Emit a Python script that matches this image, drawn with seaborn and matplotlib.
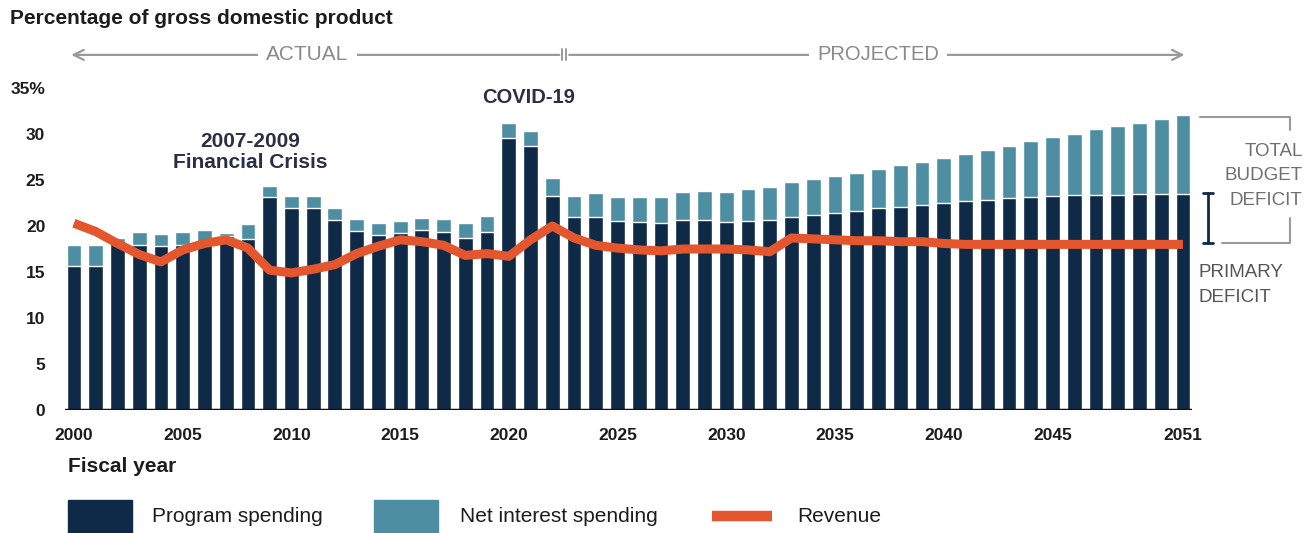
import numpy as np
import pandas as pd
import matplotlib
matplotlib.use("Agg")
import matplotlib.pyplot as plt
from matplotlib.patches import Rectangle
from matplotlib.lines import Line2D
import seaborn as sns

# Fiscal years 2000-2051
years = list(range(2000, 2052))

# Program spending, % of GDP
program = [
    15.6, 15.7, 18.1, 17.9, 17.8, 17.9, 17.9, 18.9, 18.6, 23.1,
    22.0, 22.0, 20.6, 19.5, 19.0, 19.2, 19.6, 19.3, 18.7, 19.3,
    29.6, 28.7, 23.3, 21.0, 21.0, 20.5, 20.4, 20.3, 20.6, 20.6,
    20.4, 20.5, 20.6, 21.0, 21.2, 21.4, 21.6, 22.0, 22.1, 22.3,
    22.5, 22.7, 22.8, 23.0, 23.2, 23.3, 23.4, 23.4, 23.4, 23.5,
    23.5, 23.5,
]

# Total outlays (program + net interest), % of GDP
total = [
    17.9, 17.9, 18.7, 19.3, 19.1, 19.3, 19.6, 19.2, 20.2, 24.3,
    23.3, 23.3, 22.0, 20.8, 20.3, 20.5, 20.9, 20.8, 20.3, 21.1,
    31.2, 30.3, 25.2, 23.3, 23.6, 23.2, 23.1, 23.2, 23.7, 23.8,
    23.7, 24.0, 24.2, 24.8, 25.1, 25.4, 25.8, 26.2, 26.6, 27.0,
    27.4, 27.8, 28.3, 28.7, 29.2, 29.7, 30.0, 30.5, 30.9, 31.2,
    31.6, 32.1,
]

# Revenue, % of GDP
revenue = [
    20.3, 19.4, 18.1, 16.9, 16.1, 17.4, 18.1, 18.5, 17.6, 15.2,
    14.9, 15.3, 15.8, 17.0, 17.8, 18.5, 18.3, 17.9, 16.8, 17.0,
    16.7, 18.5, 20.0, 18.7, 17.9, 17.6, 17.4, 17.3, 17.5, 17.5,
    17.5, 17.4, 17.2, 18.7, 18.6, 18.5, 18.4, 18.4, 18.3, 18.3,
    18.1, 18.0, 18.0, 18.0, 18.0, 18.0, 18.0, 18.0, 18.0, 18.0,
    18.0, 18.0,
]

tick_years = [2000, 2005, 2010, 2015, 2020, 2025, 2030, 2035, 2040, 2045, 2051]
y_ticks = [0, 5, 10, 15, 20, 25, 30, 35]
y_labels = ["0", "5", "10", "15", "20", "25", "30", "35%"]

NAVY = "#0f2a47"
TEAL = "#4d8ea3"
ORANGE = "#e4562d"
GRAY = "#9a9a9a"
TEXT = "#1c1c1c"

sns.set_theme(style="white")
plt.rcParams["font.family"] = ["Liberation Sans", "DejaVu Sans"]

df = pd.DataFrame({"year": [str(y) for y in years],
                   "program": program, "total": total})

fig = plt.figure(figsize=(13.16, 5.33), dpi=100)
ax = fig.add_axes([0.04924, 0.2308, 0.8566, 0.6041])

# Stacked bars: total outlays behind, program spending in front
sns.barplot(data=df, x="year", y="total", color=TEAL, saturation=1,
            width=0.68, ax=ax)
sns.barplot(data=df, x="year", y="program", color=NAVY, saturation=1,
            width=0.68, ax=ax)

# Revenue line
sns.lineplot(x=np.arange(len(years)), y=revenue, color=ORANGE, lw=6.5,
             ax=ax, solid_joinstyle="round", solid_capstyle="butt")

ax.axhline(0, color="#111111", lw=2.5, zorder=5)

n = len(years)
ax.set_xlim(-0.42, n - 1 + 0.42)
ax.set_ylim(0, 35)
ax.set_xlabel("")
ax.set_ylabel("")
ax.set_xticks([years.index(y) for y in tick_years])
ax.set_xticklabels([str(y) for y in tick_years], fontweight="bold",
                   fontsize=12.5, color=TEXT)
ax.set_yticks(y_ticks)
ax.set_yticklabels(y_labels, fontweight="bold", fontsize=12.5, color=TEXT)
ax.tick_params(axis="x", length=0, pad=13)
ax.tick_params(axis="y", length=0, pad=14)
for s in ax.spines.values():
    s.set_visible(False)
ax.grid(False)

# Actual / projected timeline above the plot
yt = 38.6
split = years.index(2022) + 0.5
arrow = dict(arrowstyle="->", color=GRAY, lw=1.6, mutation_scale=18)
ax.annotate("", xy=(-0.25, yt), xytext=(split - 0.05, yt),
            arrowprops=arrow, annotation_clip=False)
ax.annotate("", xy=(n - 1 + 0.2, yt), xytext=(split + 0.15, yt),
            arrowprops=arrow, annotation_clip=False)
for dx in (-0.05, 0.15):
    ax.plot([split + dx, split + dx], [yt - 0.6, yt + 0.6], color=GRAY,
            lw=1.4, clip_on=False)
box = dict(facecolor="white", edgecolor="none", pad=6)
ax.text(10.73, yt, "ACTUAL", ha="center", va="center", fontsize=15,
        color="#8a8a8a", bbox=box, clip_on=False)
ax.text(36.97, yt, "PROJECTED", ha="center", va="center", fontsize=14.5,
        color="#8a8a8a", bbox=box, clip_on=False)

# Event labels
ax.text(8.1, 28.05, "2007-2009\nFinancial Crisis", ha="center", va="center",
        fontsize=15, fontweight="bold", color="#2b2f45", linespacing=1.1)
ax.text(20.9, 34.0, "COVID-19", ha="center", va="center",
        fontsize=14.5, fontweight="bold", color="#2b2f45", clip_on=False)

# Deficit brackets on the right
bx = 55.9
ax.plot([51.8, bx, bx], [31.85, 31.85, 30.4], color=GRAY, lw=1.5,
        clip_on=False)
ax.plot([52.78, bx, bx], [18.15, 18.15, 20.9], color=GRAY, lw=1.5,
        clip_on=False)
ix = 52.14
ax.plot([ix, ix], [18.15, 23.6], color=NAVY, lw=2, clip_on=False)
for yy in (18.15, 23.6):
    ax.plot([ix - 0.24, ix + 0.24], [yy, yy], color=NAVY, lw=2,
            clip_on=False)
ax.text(56.5, 25.45, "TOTAL\nBUDGET\nDEFICIT", ha="right", va="center",
        fontsize=13.5, color="#707070", linespacing=1.58, clip_on=False)
ax.text(51.72, 13.6, "PRIMARY\nDEFICIT", ha="left", va="center",
        fontsize=13.5, color="#555555", linespacing=1.58, clip_on=False)

# Titles
fig.text(10 / 1316, 1 - 19 / 533, "Percentage of gross domestic product",
         ha="left", va="center", fontsize=15, fontweight="bold", color=TEXT)
fig.text(68 / 1316, 1 - 467 / 533, "Fiscal year", ha="left", va="center",
         fontsize=15, fontweight="bold", color=TEXT)

# Legend along the bottom edge
W, H = 1316, 533
yl = 1 - 516 / H
fig.add_artist(Rectangle((68 / W, 0), 64 / W, 33 / H, color=NAVY,
                         transform=fig.transFigure))
fig.text(152 / W, yl, "Program spending", va="center", fontsize=15,
         color=TEXT)
fig.add_artist(Rectangle((374 / W, 0), 64 / W, 33 / H, color=TEAL,
                         transform=fig.transFigure))
fig.text(460 / W, yl, "Net interest spending", va="center", fontsize=15,
         color=TEXT)
fig.add_artist(Line2D([712 / W, 772 / W], [yl, yl], color=ORANGE, lw=7.5,
                      solid_capstyle="butt", transform=fig.transFigure))
fig.text(797 / W, yl, "Revenue", va="center", fontsize=15, color=TEXT)

fig.savefig("out.png", dpi=100)
